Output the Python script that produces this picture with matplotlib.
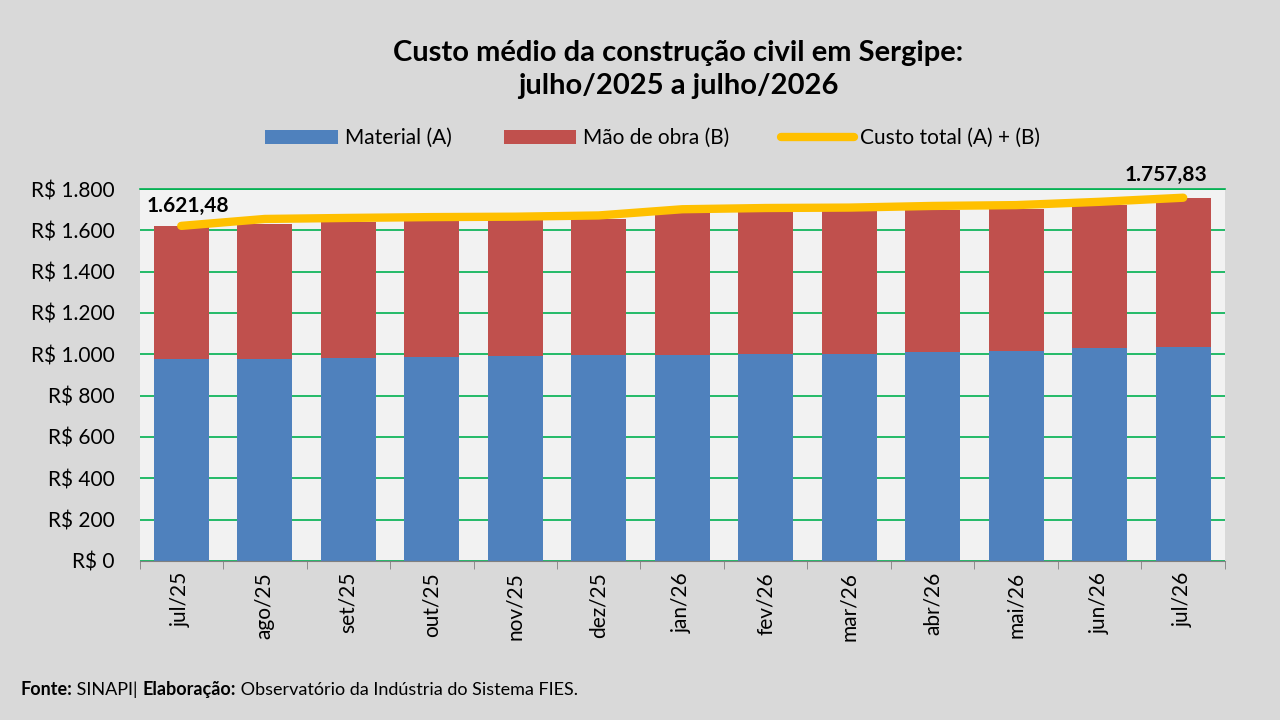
import numpy as np
import matplotlib.pyplot as plt
import matplotlib.ticker as mticker

plt.rcParams['font.family'] = ['Lato', 'DejaVu Sans']

meses = ['jul/25', 'ago/25', 'set/25', 'out/25', 'nov/25', 'dez/25', 'jan/26',
         'fev/26', 'mar/26', 'abr/26', 'mai/26', 'jun/26', 'jul/26']
material = [975, 978, 983, 988, 990, 995, 997, 1000, 1002, 1012, 1018, 1028, 1035]
total = [1621.48, 1655, 1660, 1664, 1666, 1672, 1702, 1708, 1710, 1718, 1722, 1738, 1757.83]
bar_total = [1621.48, 1632, 1640, 1645, 1648, 1655, 1688, 1690, 1692, 1700, 1705, 1722, 1757.83]
mao_obra_bar = [t - m for t, m in zip(bar_total, material)]

fig = plt.figure(figsize=(12.8, 7.2), dpi=100, facecolor='#d9d9d9')
ax = fig.add_axes([0.109, 0.221, 0.848, 0.5165])
ax.set_facecolor('#f2f2f2')
x = np.arange(len(meses))
h1 = ax.bar(x, material, width=0.66, color='#4f81bd', label='Material (A)', zorder=2)
h2 = ax.bar(x, mao_obra_bar, bottom=material, width=0.66, color='#c0504d', label='Mão de obra (B)', zorder=2)
h3, = ax.plot(x, total, color='#ffc000', lw=6, solid_capstyle='round', label='Custo total (A) + (B)', zorder=3)

ax.set_ylim(0, 1800)
ax.set_xlim(-0.5, len(meses) - 0.5)
ax.yaxis.set_major_locator(mticker.MultipleLocator(200))
ax.yaxis.set_major_formatter(mticker.FuncFormatter(lambda v, p: 'R$ ' + f'{int(v):,}'.replace(',', '.')))
ax.grid(axis='y', color='#00b050', lw=1.2, zorder=1)
ax.axhline(1800, color='#00b050', lw=1.2, zorder=1, clip_on=False)
ax.set_xticks(x)
ax.set_xticklabels(meses, rotation=90, fontsize=15)
ax.set_xticks(np.arange(-0.5, len(meses)), minor=True)
ax.tick_params(axis='x', which='major', length=0, pad=8)
ax.tick_params(axis='x', which='minor', length=6, color='#808080')
ax.tick_params(axis='y', labelsize=15, length=0, pad=18)
for s in ['top', 'right', 'left']:
    ax.spines[s].set_visible(False)
ax.spines['bottom'].set_color('#808080')

ax.annotate('1.621,48', (x[0], total[0]), xytext=(-25, 10), textcoords='offset points',
            fontsize=15, fontweight='bold')
ax.annotate('1.757,83', (x[-1], total[-1]), xytext=(-42, 12), textcoords='offset points',
            fontsize=15, fontweight='bold')

fig.text(0.53, 0.945, 'Custo médio da construção civil em Sergipe:\njulho/2025 a julho/2026',
         ha='center', va='top', fontsize=21, fontweight='bold', linespacing=1.35)
fig.legend([h1, h2, h3], ['Material (A)', 'Mão de obra (B)', 'Custo total (A) + (B)'],
           loc='center', bbox_to_anchor=(0.51, 0.808), ncol=3, frameon=False, fontsize=15,
           handlelength=3.5, handletextpad=0.3, columnspacing=2.5)

# rodapé com partes em negrito
partes = [('Fonte:', 'bold'), (' SINAPI| ', 'normal'), ('Elaboração:', 'bold'),
          (' Observatório da Indústria do Sistema FIES.', 'normal')]
fig.canvas.draw()
r = fig.canvas.get_renderer()
xpos = 20
for txt, w in partes:
    t = fig.text(xpos / 1280, 0.035, txt, fontsize=13, fontweight=w)
    xpos += t.get_window_extent(r).width
fig.savefig('out.png', dpi=100, facecolor=fig.get_facecolor())
